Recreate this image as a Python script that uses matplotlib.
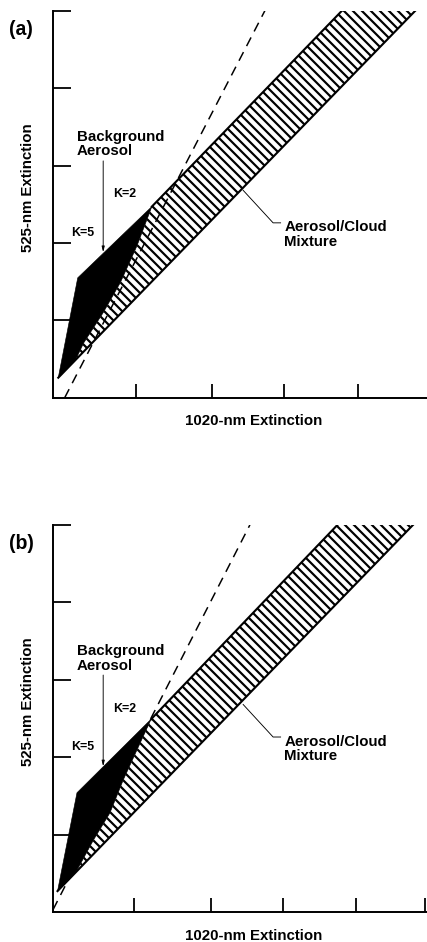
"""
SAGE II extinction diagram: background aerosol vs aerosol/cloud mixture, panels (a) and (b).
"""

import matplotlib
matplotlib.use("Agg")
import matplotlib.pyplot as plt

plt.rcParams['font.family'] = ['Liberation Sans', 'DejaVu Sans']
plt.rcParams['font.weight'] = 'bold'
plt.rcParams['axes.labelweight'] = 'bold'
plt.rcParams['hatch.linewidth'] = 2.9
plt.rcParams['lines.scale_dashes'] = False

DPI = 54

# ---- panel (a) ----
a_black_x = [0.07, 0.33, 1.32, 1.12, 0.90, 0.67, 0.41, 0.30]
a_black_y = [0.26, 1.55, 2.47, 1.96, 1.49, 1.10, 0.71, 0.49]
a_band_x = [0.30, 4.84, 3.86, 1.32, 1.12, 0.90, 0.67, 0.41]
a_band_y = [0.49, 5.00, 5.00, 2.47, 1.96, 1.49, 1.10, 0.71]
a_lower_x = [0.07, 4.84]
a_lower_y = [0.26, 5.00]
a_upper_x = [1.32, 3.86]
a_upper_y = [2.47, 5.00]
a_dash_x = [0.155, 2.83]
a_dash_y = [0.00, 5.00]
a_xticks = [1.11, 2.13, 3.09, 4.08]

# ---- panel (b) ----
b_black_x = [0.06, 0.32, 1.31, 1.12, 0.94, 0.76, 0.54, 0.32]
b_black_y = [0.27, 1.54, 2.49, 2.09, 1.71, 1.28, 0.93, 0.54]
b_band_x = [0.32, 4.81, 3.80, 1.31, 1.12, 0.94, 0.76, 0.54]
b_band_y = [0.54, 5.00, 5.00, 2.49, 2.09, 1.71, 1.28, 0.93]
b_lower_x = [0.06, 4.81]
b_lower_y = [0.27, 5.00]
b_upper_x = [1.31, 3.80]
b_upper_y = [2.49, 5.00]
b_dash_x = [0.00, 2.63]
b_dash_y = [0.03, 5.00]
b_xticks = [1.08, 2.11, 3.07, 4.05, 4.97]

y_ticks = [1, 2, 3, 4, 5]


def draw_panel(ax, tag, black_x, black_y, band_x, band_y, lower_x, lower_y,
               upper_x, upper_y, dash_x, dash_y, x_ticks):
    ax.fill(band_x, band_y, facecolor="white", edgecolor="black", hatch="\\\\",
            linewidth=0, zorder=1)
    ax.plot(lower_x, lower_y, color="black", lw=2.8, zorder=2)
    ax.plot(upper_x, upper_y, color="black", lw=2.8, zorder=2)
    ax.plot(dash_x, dash_y, color="black", lw=2.0, dashes=(13, 9), zorder=3)
    ax.fill(black_x, black_y, facecolor="black", edgecolor="black", lw=0.8, zorder=4)

    # labels inside the plot
    ax.text(0.32, 3.28, "Background\nAerosol", fontsize=20, ha="left", va="center",
            linespacing=1.05)
    ax.annotate("", xy=(0.67, 1.88), xytext=(0.67, 3.06),
                arrowprops=dict(arrowstyle="-|>,head_length=0.6,head_width=0.15",
                                color="black", lw=1.2, shrinkA=0, shrinkB=0))
    ax.text(0.96, 2.63, "K=2", fontsize=16.5, ha="center", va="center")
    ax.text(0.40, 2.13, "K=5", fontsize=16.5, ha="center", va="center")
    ax.plot([2.54, 2.94, 3.04], [2.68, 2.26, 2.26], color="black", lw=1.2, zorder=5)
    ax.text(3.09, 2.11, "Aerosol/Cloud\nMixture", fontsize=20, ha="left", va="center",
            linespacing=1.05)

    ax.text(-0.0856, 0.953, tag, transform=ax.transAxes, fontsize=26,
            ha="center", va="center")

    ax.set_xlim(0, 5)
    ax.set_ylim(0, 5)
    ax.set_xticks(x_ticks)
    ax.set_yticks(y_ticks)
    ax.tick_params(axis="x", direction="in", length=19, width=2.4, labelbottom=False)
    ax.tick_params(axis="y", direction="in", length=24, width=2.4, labelleft=False)
    for side in ["top", "right"]:
        ax.spines[side].set_visible(False)
    for side in ["left", "bottom"]:
        ax.spines[side].set_linewidth(2.6)

    ax.set_xlabel("1020-nm Extinction", fontsize=20, fontweight="bold", va="center")
    ax.xaxis.set_label_coords(0.535, -0.06)
    ax.set_ylabel("525-nm Extinction", fontsize=20, fontweight="bold", va="center")
    ax.yaxis.set_label_coords(-0.068, 0.543)


fig = plt.figure(figsize=(427.3 / DPI, 942.3 / DPI), dpi=DPI)
ax_a = fig.add_axes([53 / 427, (942 - 398) / 942, 374 / 427, 387 / 942])
ax_b = fig.add_axes([53 / 427, (942 - 912) / 942, 374 / 427, 387 / 942])

draw_panel(ax_a, "(a)", a_black_x, a_black_y, a_band_x, a_band_y, a_lower_x, a_lower_y,
           a_upper_x, a_upper_y, a_dash_x, a_dash_y, a_xticks)
draw_panel(ax_b, "(b)", b_black_x, b_black_y, b_band_x, b_band_y, b_lower_x, b_lower_y,
           b_upper_x, b_upper_y, b_dash_x, b_dash_y, b_xticks)

fig.savefig("out.png", dpi=DPI)
plt.close(fig)
